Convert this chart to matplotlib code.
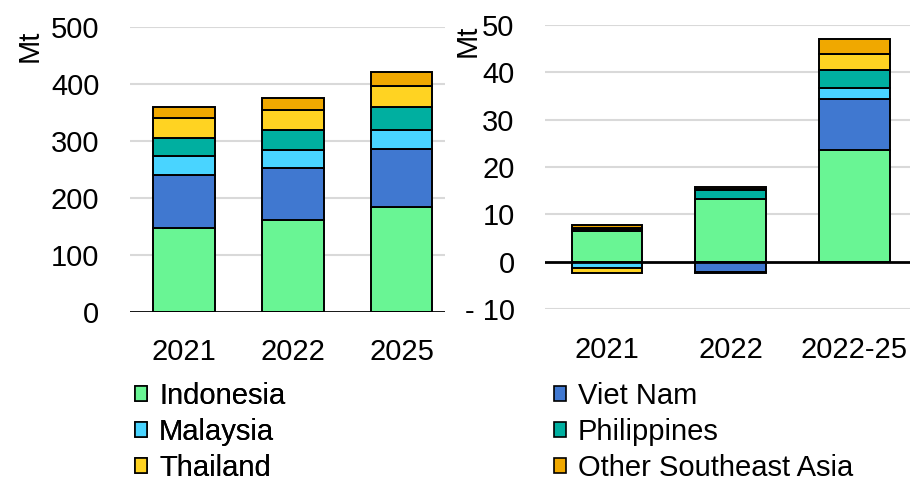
import matplotlib
matplotlib.use('Agg')
import matplotlib.pyplot as plt
import numpy as np
from matplotlib.patches import Patch

plt.rcParams['font.family'] = ['Liberation Sans', 'DejaVu Sans']

# --- data (Mt) ---
regions = ['Indonesia', 'Viet Nam', 'Malaysia', 'Philippines', 'Thailand', 'Other Southeast Asia']
colors = ['#69F594', '#4078D0', '#49D4FF', '#00AFA0', '#FFD322', '#F0A800']

left_cats = ['2021', '2022', '2025']
indonesia_lvl = [147, 161, 184]
vietnam_lvl = [93, 91, 102]
malaysia_lvl = [33, 33, 34]
philippines_lvl = [33, 35, 39]
thailand_lvl = [34, 34, 38]
other_lvl = [20, 22, 24]

right_cats = ['2021', '2022', '2022-25']
indonesia_chg = [6.6, 13.3, 23.6]
vietnam_chg = [0.3, -2.1, 10.7]
malaysia_chg = [-1.4, -0.2, 2.4]
philippines_chg = [0.3, 1.8, 3.8]
thailand_chg = [-1.0, 0.3, 3.5]
other_chg = [0.5, 0.5, 3.0]

left_ticks = [0, 100, 200, 300, 400, 500]
right_ticks = [-10, 0, 10, 20, 30, 40, 50]
right_ticklabels = ['- 10', '0', '10', '20', '30', '40', '50']

left_series = [indonesia_lvl, vietnam_lvl, malaysia_lvl, philippines_lvl, thailand_lvl, other_lvl]
right_series = [indonesia_chg, vietnam_chg, malaysia_chg, philippines_chg, thailand_chg, other_chg]

FS = 21
fig = plt.figure(figsize=(9.13, 4.83), dpi=100)
ax1 = fig.add_axes([0.1424, 0.354, 0.345, 0.590])
ax2 = fig.add_axes([0.597, 0.360, 0.3997, 0.588])

grid_col = '#d9d9d9'


def stack(ax, cats, series, width):
    x = np.arange(len(cats))
    pos = np.zeros(len(cats))
    neg = np.zeros(len(cats))
    for vals, col in zip(series, colors):
        vals = np.array(vals, dtype=float)
        bottom = np.where(vals >= 0, pos, neg)
        ax.bar(x, vals, width, bottom=bottom, color=col, edgecolor='black',
               linewidth=1.4, zorder=3)
        pos += np.where(vals >= 0, vals, 0)
        neg += np.where(vals < 0, vals, 0)
    ax.set_xticks(x)
    ax.set_xticklabels(cats)


stack(ax1, left_cats, left_series, 0.57)
stack(ax2, right_cats, right_series, 0.57)

# left panel
ax1.set_xlim(-0.497, 2.40)
ax1.set_ylim(0, 500)
ax1.set_yticks(left_ticks)
for t in left_ticks[1:]:
    ax1.axhline(t, color=grid_col, linewidth=1.5, zorder=1)
ax1.axhline(0, color='black', linewidth=2, zorder=4)

# right panel
ax2.set_xlim(-0.50, 2.45)
ax2.set_ylim(-10, 50)
ax2.set_yticks(right_ticks)
ax2.set_yticklabels(right_ticklabels)
for t in right_ticks:
    if t != 0:
        ax2.axhline(t, color=grid_col, linewidth=1.5, zorder=1)
ax2.axhline(0, color='black', linewidth=2, zorder=4)

for ax in (ax1, ax2):
    for s in ax.spines.values():
        s.set_visible(False)
    ax.tick_params(axis='both', length=0, labelsize=FS)
    ax.tick_params(axis='y', pad=22)
    ax.tick_params(axis='x', pad=19)

fig.text(30 / 913, 1 - 46 / 483, 'Mt', rotation=90, fontsize=FS, ha='center', va='center')
fig.text(468 / 913, 1 - 41 / 483, 'Mt', rotation=90, fontsize=FS, ha='center', va='center')

# legend: two columns placed separately
handles = [Patch(facecolor=c, edgecolor='black', linewidth=1.2) for c in colors]
leg_kw = dict(frameon=False, fontsize=FS, handlelength=0.42, handleheight=0.42,
              handletextpad=0.4, labelspacing=0.28, borderpad=0, borderaxespad=0,
              loc='upper left')
leg1 = fig.legend([handles[0], handles[2], handles[4]],
                  [regions[0], regions[2], regions[4]],
                  bbox_to_anchor=(135 / 913, 1 - 382 / 483), **leg_kw)
fig.add_artist(leg1)
fig.legend([handles[1], handles[3], handles[5]],
           [regions[1], regions[3], regions[5]],
           bbox_to_anchor=(554 / 913, 1 - 382 / 483), **leg_kw)

fig.savefig('out.png', dpi=100)
